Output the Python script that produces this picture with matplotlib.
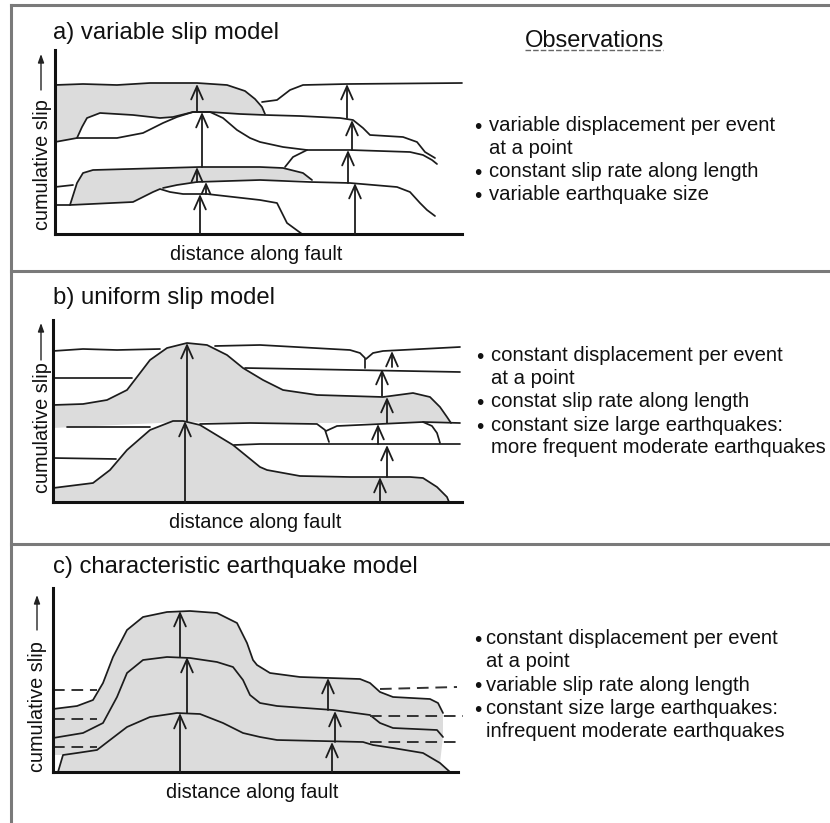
import numpy as np
import matplotlib
matplotlib.use('Agg')
import matplotlib.pyplot as plt
from matplotlib.patches import FancyArrowPatch

plt.rcParams['font.family'] = ['Liberation Sans', 'DejaVu Sans']

# ---- figure size in pixels (dpi 100) ----
W, H = 830, 823

# ---- panel texts ----
titles = ['a) variable slip model', 'b) uniform slip model', 'c) characteristic earthquake model']
xlabel = 'distance along fault'
ylabel = 'cumulative slip'
obs_title = 'Observations'
obs_a = [('•', 'variable displacement per event'), ('', 'at a point'),
         ('•', 'constant slip rate along length'), ('•', 'variable earthquake size')]
obs_b = [('•', 'constant displacement per event'), ('', 'at a point'),
         ('•', 'constat slip rate along length'), ('•', 'constant size large earthquakes:'),
         ('', 'more frequent moderate earthquakes')]
obs_c = [('•', 'constant displacement per event'), ('', 'at a point'),
         ('•', 'variable slip rate along length'), ('•', 'constant size large earthquakes:'),
         ('', 'infrequent moderate earthquakes')]

# ---- panel a: slip profiles (distance, cumulative slip) ----
a_top_left = [(0, 149), (28, 150), (62, 149), (95, 151), (142, 151), (172, 149),
              (190, 143), (200, 135), (207, 127), (210, 120)]
a_top_right = [(207, 132), (222, 134), (235, 144), (248, 149), (292, 150), (407, 151)]
a_second = [(0, 92), (22, 96), (27, 107), (32, 116), (45, 121), (78, 119), (105, 116),
            (118, 117), (138, 122), (155, 122), (185, 120), (210, 119), (245, 118),
            (285, 116), (298, 114), (308, 106), (315, 99), (348, 97), (362, 92),
            (370, 82), (380, 76)]
a_bump = [(22, 96), (62, 96), (88, 101), (108, 111), (122, 117), (138, 122), (155, 122),
          (168, 116), (182, 104), (195, 96), (205, 92), (228, 87), (252, 84), (295, 84),
          (355, 82), (368, 79), (377, 74), (382, 70)]
a_step = [(230, 67), (238, 77), (252, 84)]
a_shade2_top = [(15, 29), (22, 51), (28, 61), (38, 64), (145, 67), (205, 67), (228, 66),
                (248, 61), (257, 54)]
a_shade2_base = [(205, 54), (142, 52), (122, 49), (108, 46), (98, 42), (78, 32), (15, 29)]
a_line_c_left = [(0, 47), (18, 49)]
a_line_c_right = [(108, 46), (122, 49), (142, 52), (205, 54), (255, 52), (295, 51),
                  (342, 47), (355, 42), (365, 31), (372, 24), (380, 18)]
a_line_d = [(0, 29), (15, 29), (78, 32), (98, 42), (105, 45), (115, 42), (128, 40),
            (152, 40), (205, 34), (222, 31), (227, 21), (232, 11), (247, 0)]
# slip per event at two sites: (distance, from, to)
a_arrows = [(145, 0, 40), (151, 40, 52), (142, 52, 67), (147, 67, 122), (142, 122, 150),
            (300, 0, 51), (293, 51, 84), (297, 84, 114), (292, 116, 150)]

# ---- panel b ----
b_l0_left = [(0, 151), (30, 153), (64, 152), (107, 153)]
b_l0_right = [(162, 156), (207, 157), (297, 152), (307, 149), (312, 144), (312, 134)]
b_l0b = [(313, 143), (320, 149), (330, 151), (407, 155)]
b_l2_left = [(0, 124), (79, 124)]
b_l2_right = [(192, 134), (247, 133), (407, 130)]
b_upper_bump = [(0, 97), (30, 98), (54, 102), (74, 112), (84, 125), (97, 142), (114, 154),
                (134, 159), (154, 157), (174, 147), (190, 134), (210, 122), (230, 112),
                (264, 107), (330, 105), (360, 109), (377, 105), (387, 95), (394, 85),
                (398, 79)]
b_upper_base = [(197, 79), (127, 80), (0, 74)]
b_l4_left = [(14, 75), (97, 75)]
b_l4_right = [(147, 78), (197, 79), (264, 78), (272, 72), (276, 60)]
b_l6 = [(273, 71), (284, 76), (370, 80), (407, 79)]
b_l6_drop = [(370, 80), (379, 76), (384, 69), (387, 59)]
b_l7_left = [(0, 44), (63, 43)]
b_l7_right = [(181, 57), (207, 58), (407, 58)]
b_lower_bump = [(0, 14), (40, 19), (57, 32), (74, 52), (97, 72), (120, 81), (130, 81),
                (147, 77), (180, 57), (207, 35), (214, 32), (247, 26), (297, 25),
                (357, 25), (370, 24), (384, 15), (394, 5), (396, 0)]
b_arrows = [(132, 0, 81), (134, 81, 159), (327, 0, 25), (334, 25, 57), (325, 58, 78),
            (334, 79, 105), (329, 106, 133), (339, 135, 151)]

# ---- panel c ----
c_c1 = [(0, 63), (24, 66), (40, 72), (50, 89), (60, 115), (74, 142), (90, 155), (114, 160),
        (137, 161), (164, 159), (184, 149), (194, 129), (200, 112), (204, 107), (217, 99),
        (247, 95), (307, 93), (317, 89), (327, 80), (340, 75), (377, 73), (385, 69),
        (390, 59)]
c_c2 = [(0, 34), (30, 39), (50, 49), (64, 75), (74, 99), (90, 112), (114, 115), (137, 114),
        (164, 110), (180, 105), (190, 92), (197, 77), (207, 69), (224, 66), (280, 62),
        (317, 57), (327, 49), (340, 44), (384, 42), (390, 35)]
c_c3 = [(5, 0), (10, 17), (24, 19), (44, 22), (57, 32), (74, 45), (97, 55), (124, 59),
        (147, 58), (170, 49), (190, 39), (207, 35), (224, 32), (310, 30), (320, 27),
        (340, 24), (370, 19), (387, 9), (397, 0)]
c_dash_left = [82, 53, 25]
c_dash_right = [(327, 404, 83, 85), (317, 410, 56, 56), (317, 407, 30, 30)]
c_arrows = [(127, 0, 59), (134, 59, 115), (127, 115, 161), (279, 0, 30), (282, 30, 61),
            (275, 62, 94)]

LINE = '#1c1c1c'
SHADE = '#dcdcdc'
FRAME = '#7a7a7a'


def panel_axes(fig, x0, y_axis, w, h):
    """axes whose origin sits at pixel (x0, y_axis) of the picture"""
    ax = fig.add_axes([x0 / W, (H - y_axis) / H, w / W, h / H])
    ax.set_xlim(0, w)
    ax.set_ylim(0, h)
    ax.patch.set_alpha(0)
    for s in ['top', 'right']:
        ax.spines[s].set_visible(False)
    for s in ['left', 'bottom']:
        ax.spines[s].set_linewidth(2.2)
        ax.spines[s].set_color('#111111')
    ax.set_xticks([])
    ax.set_yticks([])
    return ax


def curve(ax, pts, **kw):
    p = np.array(pts, dtype=float)
    ax.plot(p[:, 0], p[:, 1], color=kw.pop('color', LINE), lw=kw.pop('lw', 1.25),
            solid_capstyle='round', solid_joinstyle='round', clip_on=False, zorder=2, **kw)


def shade(ax, pts):
    p = np.array(pts, dtype=float)
    ax.fill(p[:, 0], p[:, 1], color=SHADE, lw=0, zorder=1, clip_on=False)


def slip_arrows(ax, arrows):
    for x, y0, y1 in arrows:
        s = min(1.0, (y1 - y0) / 16.0)
        style = '->,head_length=%.2f,head_width=%.2f' % (0.95 * s, 0.42 * s)
        ar = FancyArrowPatch((x, y0), (x, y1), arrowstyle=style, mutation_scale=10,
                             lw=1.3, color=LINE, shrinkA=0, shrinkB=0, zorder=3,
                             clip_on=False)
        ax.add_patch(ar)


fig = plt.figure(figsize=(W / 100, H / 100), dpi=100)

# background axes in picture pixels for the frame and the texts
bg = fig.add_axes([0, 0, 1, 1])
bg.set_xlim(0, W)
bg.set_ylim(H, 0)
bg.axis('off')
bg.plot([11, W], [5, 5], color=FRAME, lw=2.2)
bg.plot([11, 11], [5, H], color=FRAME, lw=2.2)
bg.plot([11, W], [271, 271], color=FRAME, lw=2.2)
bg.plot([11, W], [544, 544], color=FRAME, lw=2.2)

# titles / axis labels per panel
layout = [(39, 234, 48, 230, 41, 90, 54, 256),
          (304, 502, 48, 493, 41, 360, 323, 255),
          (573, 772, 43, 772, 37, 630, 595, 252)]
for t, (ty, xa, lx, ly, arx, ar0, ar1, xc) in zip(titles, layout):
    bg.text(53, ty, t, fontsize=17.2, va='baseline', ha='left', color='#111')
    bg.text(xc, xa + 26, xlabel, fontsize=14.4, va='baseline', ha='center', color='#111')
    bg.text(lx, ly, ylabel, fontsize=14.3, rotation=90, rotation_mode='anchor',
            ha='left', va='baseline', color='#111')
    bg.annotate('', xy=(arx, ar1), xytext=(arx, ar0),
                arrowprops=dict(arrowstyle='-|>,head_length=0.5,head_width=0.18',
                                lw=1.0, color='#222', shrinkA=0, shrinkB=0))

bg.text(525, 47, obs_title, fontsize=17, va='baseline', ha='left', color='#111')
bg.plot([525, 663], [50, 50], color='#666', lw=1.0, dashes=(4, 1.5))

obs_layout = [(obs_a, 478, 489, [131, 154, 177, 200]),
              (obs_b, 480, 491, [361, 384, 407, 431, 453]),
              (obs_c, 478, 486, [644, 667, 691, 714, 737])]
for lines, bx, tx, ys in obs_layout:
    for (b, s), y in zip(lines, ys):
        if b:
            bg.text(bx, y + 1.5, b, fontsize=15, ha='center', va='baseline', color='#111')
        bg.text(tx, y, s, fontsize=14.6, ha='left', va='baseline', color='#111')

# ---- panel a ----
ax = panel_axes(fig, 55, 234, 407, 184)
sec = [p for p in a_second if p[0] <= 210]
shade(ax, a_top_left + sec[::-1])
shade(ax, a_shade2_top + a_shade2_base)
for c in [a_top_left, a_top_right, a_second, a_bump, a_step, a_shade2_top,
          a_line_c_left, a_line_c_right, a_line_d]:
    curve(ax, c)
slip_arrows(ax, a_arrows)

# ---- panel b ----
ax = panel_axes(fig, 53, 502, 409, 182)
shade(ax, b_upper_bump + b_upper_base)
shade(ax, b_lower_bump + [(0, 0)])
for c in [b_l0_left, b_l0_right, b_l0b, b_l2_left, b_l2_right, b_upper_bump,
          b_l4_left, b_l4_right, b_l6, b_l6_drop, b_l7_left, b_l7_right, b_lower_bump]:
    curve(ax, c)
slip_arrows(ax, b_arrows)

# ---- panel c ----
ax = panel_axes(fig, 53, 772, 405, 184)
shade(ax, c_c1 + [c_c2[-1]] + c_c3[-2:] + c_c3[:2] + [(0, c_c3[1][1])])
for c in [c_c1, c_c2, c_c3]:
    curve(ax, c)
for y in c_dash_left:
    ax.plot([0, 44], [y, y], color='#333', lw=1.4, dashes=(6, 3.5), clip_on=False, zorder=2)
for x0, x1, y0, y1 in c_dash_right:
    ax.plot([x0, x1], [y0, y1], color='#333', lw=1.4, dashes=(6, 3.5), clip_on=False, zorder=2)
slip_arrows(ax, c_arrows)

fig.savefig('out.png', dpi=100, facecolor='white')
